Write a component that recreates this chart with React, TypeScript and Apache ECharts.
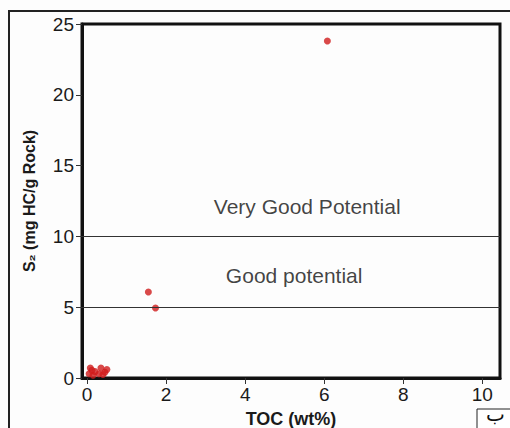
import React, { useEffect, useRef } from "react";
import * as echarts from "echarts";

const xTicks = [0, 2, 4, 6, 8, 10];
const samples: [number, number][] = [
  [6.08, 23.8],
  [1.55, 6.07],
  [1.73, 4.94],
  [0.08, 0.7],
  [0.2, 0.45],
  [0.35, 0.7],
  [0.45, 0.4],
  [0.05, 0.3],
  [0.15, 0.2],
  [0.5, 0.6],
  [0.3, 0.3],
  [0.12, 0.55],
  [0.4, 0.25],
];
const thresholds = [10, 5];
const zoneLabels: { text: string; pos: [number, number] }[] = [
  { text: "Very Good Potential", pos: [5.57, 12.1] },
  { text: "Good potential", pos: [5.24, 7.25] },
];

export default function App() {
  const ref = useRef<HTMLDivElement>(null);
  useEffect(() => {
    if (!ref.current) return;
    const chart = echarts.init(ref.current, undefined, { renderer: "svg" });
    const font = "Liberation Sans, Arial, sans-serif";
    chart.setOption({
      animation: false,
      backgroundColor: "#fdfdfd",
      grid: {
        left: 82,
        top: 24,
        right: 10,
        bottom: 50,
        outerBoundsMode: "none",
        containLabel: false,
        show: true,
        borderColor: "#111",
        borderWidth: 3,
        backgroundColor: "transparent",
      },
      xAxis: {
        type: "value",
        min: -0.13,
        max: 10.45,
        splitLine: { show: false },
        axisLine: { show: true, onZero: false, lineStyle: { color: "#111", width: 3 } },
        axisTick: { show: true, customValues: xTicks, length: 6, lineStyle: { color: "#333", width: 1 } },
        axisLabel: {
          customValues: xTicks,
          color: "#1a1a1a",
          fontSize: 19,
          fontFamily: font,
          margin: 7,
        },
        name: "TOC (wt%)",
        nameLocation: "middle",
        nameGap: 28,
        nameTextStyle: { color: "#1a1a1a", fontSize: 18, fontWeight: "bold", fontFamily: font, lineHeight: 20 },
      },
      yAxis: {
        type: "value",
        min: 0,
        max: 25,
        interval: 5,
        splitLine: { show: false },
        axisLine: { show: true, onZero: false, lineStyle: { color: "#111", width: 3 } },
        axisTick: { show: true, length: 6, lineStyle: { color: "#333", width: 1 } },
        axisLabel: { color: "#1a1a1a", fontSize: 19, fontFamily: font, margin: 8 },
        name: "S\u2082 (mg HC/g Rock)",
        nameLocation: "middle",
        nameGap: 45,
        nameTextStyle: { color: "#1a1a1a", fontSize: 16, fontWeight: "bold", fontFamily: font },
      },
      series: [
        {
          type: "scatter",
          data: samples,
          symbolSize: 7,
          itemStyle: { color: "#d01c1c" },
          markLine: {
            silent: true,
            symbol: "none",
            label: { show: false },
            lineStyle: { color: "#333", width: 1, type: "solid" },
            data: thresholds.map((v) => ({ yAxis: v })),
          },
        },
        {
          type: "scatter",
          symbolSize: 0,
          silent: true,
          data: zoneLabels.map((z) => ({ value: z.pos, name: z.text })),
          label: {
            show: true,
            position: "inside",
            formatter: (p: any) => p.name,
            color: "#111",
            fontSize: 21,
            fontFamily: font,
          },
        },
      ],
      graphic: [
        {
          type: "rect",
          shape: { x: 9, y: 11, width: 600, height: 600 },
          style: { fill: "none", stroke: "#222", lineWidth: 2 },
          silent: true,
        },
        {
          type: "rect",
          shape: { x: 477, y: 409, width: 60, height: 40 },
          style: { fill: "#fff", stroke: "#222", lineWidth: 1 },
          silent: true,
        },
        {
          type: "text",
          x: 486,
          y: 404,
          style: { text: "\u0628", fontSize: 20, fill: "#111", fontFamily: "DejaVu Sans" },
          silent: true,
        },
      ],
    });
    return () => chart.dispose();
  }, []);
  return <div ref={ref} style={{ width: 510, height: 428, position: "absolute", left: 0, top: 0 }} />;
}
